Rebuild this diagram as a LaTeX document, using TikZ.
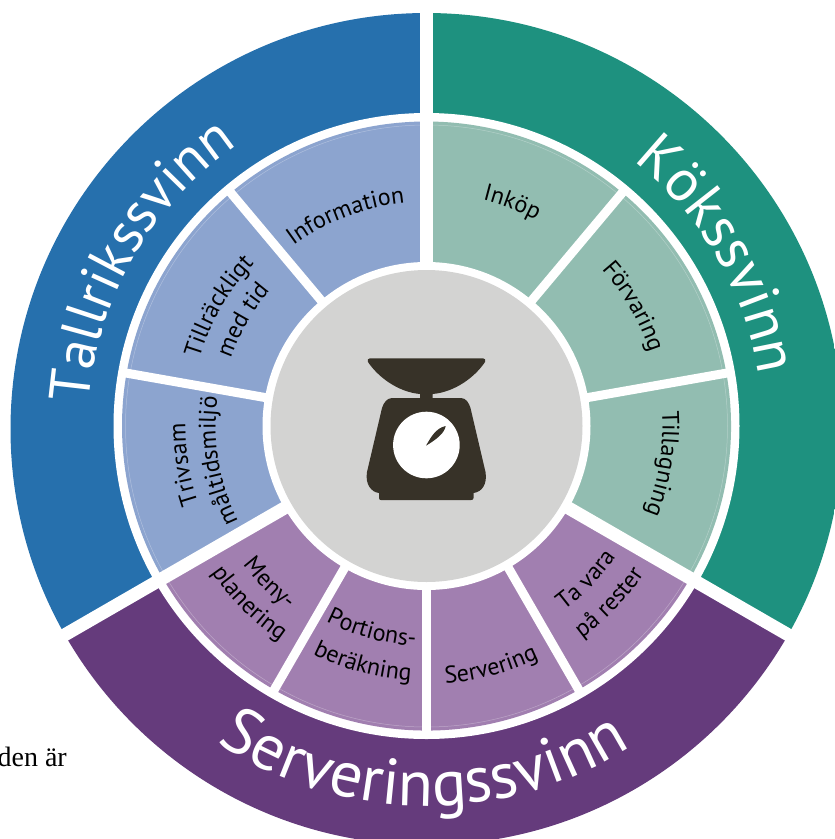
\documentclass[tikz,border=0pt]{standalone}
\usepackage{fontspec}
\setmainfont{PT Sans}
\newfontfamily\serifface{Liberation Serif}
\usetikzlibrary{decorations.text}
\definecolor{cblue}{HTML}{2670AD}
\definecolor{cteal}{HTML}{1E917F}
\definecolor{cpurple}{HTML}{653B7C}
\definecolor{lblue}{HTML}{8CA4CF}
\definecolor{lteal}{HTML}{92BDB1}
\definecolor{lpurple}{HTML}{A17FB0}
\definecolor{cgray}{HTML}{D3D3D2}
\definecolor{cdark}{HTML}{373228}
% sector: colour, from, to, radius
\newcommand{\sectorfill}[4]{\fill[#1] (C) -- ([shift={(#2:#4)}]C) arc[start angle=#2,end angle=#3,radius=#4] -- cycle;}
% arc text: radius, middle angle, half span, font size, text, colour
\newcommand{\toparc}[6]{\path[decorate,decoration={text along path,text align=center,text color=#6,text={|\fontsize{#4}{#4}\selectfont|#5}}]
 ([shift={(#2+#3:#1)}]C) arc[start angle=#2+#3,end angle=#2-#3,radius=#1];}
\newcommand{\botarc}[6]{\path[decorate,decoration={text along path,text align=center,text color=#6,text={|\fontsize{#4}{#4}\selectfont|#5}}]
 ([shift={(#2-#3:#1)}]C) arc[start angle=#2-#3,end angle=#2+#3,radius=#1];}
\begin{document}
\begin{tikzpicture}[x=1pt,y=1pt]
\useasboundingbox (0,0) rectangle (835,-839);
\clip (0,0) rectangle (835,-839);
\coordinate (C) at (426.5,-426);
\coordinate (Outer) at (426.5,-429);
% outer ring
\begin{scope}
\clip (Outer) circle[radius=416];
\sectorfill{cblue}{90}{210}{440}
\sectorfill{cteal}{-30}{90}{440}
\sectorfill{cpurple}{210}{330}{440}
\end{scope}
\fill[white] (C) circle[radius=313];
% middle ring
\sectorfill{lblue}{90}{210}{304.5}
\sectorfill{lteal}{-30}{90}{304.5}
\sectorfill{lpurple}{210}{330}{304.5}
\draw[white,opacity=.3,line width=.5pt] (C) circle[radius=301];
% dividers
\foreach \a in {90,210,330}{
  \draw[white,line width=13pt] (C) -- ([shift={(\a:450)}]C);
}
\foreach \a in {50,10,130,170,240,270,300}{
  \draw[white,line width=9pt] (C) -- ([shift={(\a:310)}]C);
}
% centre
\fill[white] (C) circle[radius=164];
\fill[cgray] (C) circle[radius=156];
% scale icon
\fill[cdark] (370,-358.3) -- (483,-358.3) .. controls (485,-358.3) and (486,-360) .. (485,-362) .. controls (475,-377) and (455,-392) .. (432.7,-394) -- (432.7,-398) -- (420,-398) -- (420,-394) .. controls (398,-392) and (378,-377) .. (368,-362) .. controls (367,-360) and (368,-358.3) .. (370,-358.3) -- cycle;
\fill[cdark] (392,-398) -- (461,-398) .. controls (466,-398) and (469,-403) .. (470.5,-408) -- (485.5,-472) .. controls (487.5,-484) and (482,-492) .. (473.5,-493) -- (473.5,-498) .. controls (473.5,-499.5) and (472.5,-500) .. (471,-500) -- (381,-500) .. controls (380,-500) and (379,-499.5) .. (379,-498) -- (379,-493) .. controls (371,-492) and (365,-484) .. (367,-472) -- (382,-408) .. controls (383.5,-403) and (387,-398) .. (392,-398) -- cycle;
\fill[white] (426.4,-445) circle[radius=33.3];
\fill[cdark] (426,-445.7) .. controls (431,-437) and (436,-428) .. (445.7,-426) .. controls (444.5,-433) and (437,-439) .. (426,-445.7) -- cycle;
% outer labels
\toparc{338}{150}{50}{57}{Tallrikssvinn}{white}
\toparc{336}{30.3}{50}{59}{Kökssvinn}{white}
\botarc{380}{269.5}{50}{65}{Serveringssvinn}{white}
% middle labels
\toparc{224}{111}{30}{24}{Information}{black}
\toparc{233}{69}{25}{24}{Inköp}{black}
\toparc{235}{30}{25}{24}{Förvaring}{black}
\toparc{236}{-9}{25}{24}{Tillagning}{black}
\toparc{237}{150}{25}{24}{Tillräckligt}{black}
\toparc{207}{150}{25}{24}{med tid}{black}
\toparc{241}{189}{25}{24}{Trivsam}{black}
\toparc{211}{189.5}{25}{24}{måltidsmiljö}{black}
\botarc{230}{225}{20}{24}{Meny-}{black}
\botarc{260}{225}{20}{24}{planering}{black}
\botarc{220}{255}{20}{24}{Portions-}{black}
\botarc{255}{255}{20}{24}{beräkning}{black}
\botarc{258}{285}{20}{24}{Servering}{black}
\botarc{230}{316}{20}{24}{Ta vara}{black}
\botarc{263}{316}{20}{24}{på rester}{black}
\node[anchor=base east,inner sep=0pt,font=\serifface\fontsize{28}{28}\selectfont] (frag) at (67,-766) {den är};
\end{tikzpicture}
\end{document}
